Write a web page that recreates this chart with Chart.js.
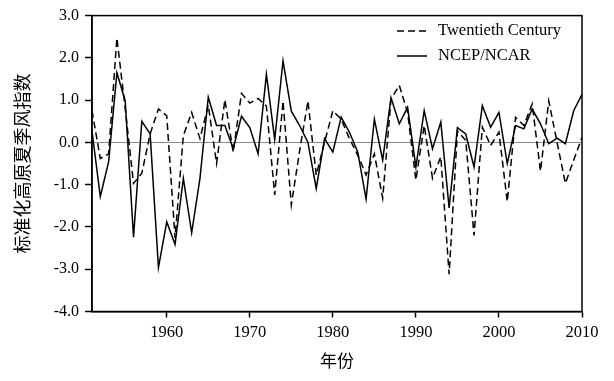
<!DOCTYPE html>
<html>
<head>
<meta charset="utf-8">
<script src="https://cdn.jsdelivr.net/npm/chart.js@4.4.0/dist/chart.umd.min.js"></script>
<style>
html,body{margin:0;padding:0;background:#fff;}
#wrap{width:614px;height:381px;position:relative;}
</style>
</head>
<body>
<div id="wrap"><canvas id="c" width="614" height="381"></canvas></div>
<script>
const years = [1951,1952,1953,1954,1955,1956,1957,1958,1959,1960,
  1961,1962,1963,1964,1965,1966,1967,1968,1969,1970,
  1971,1972,1973,1974,1975,1976,1977,1978,1979,1980,
  1981,1982,1983,1984,1985,1986,1987,1988,1989,1990,
  1991,1992,1993,1994,1995,1996,1997,1998,1999,2000,
  2001,2002,2003,2004,2005,2006,2007,2008,2009,2010];

const twentiethCentury = [0.75,-0.38,-0.27,2.47,0.8,-0.97,-0.73,0.2,0.79,0.63,
  -2.26,0.16,0.71,0.09,0.88,-0.5,1.01,-0.23,1.16,0.93,
  1.04,0.86,-1.24,0.98,-1.48,-0.2,0.98,-0.77,0.0,0.75,
  0.55,0.09,-0.3,-0.77,-0.27,-1.32,1.02,1.35,0.71,-0.89,
  0.4,-0.85,-0.34,-3.12,0.27,0.05,-2.2,0.36,-0.07,0.24,
  -1.4,0.59,0.4,0.91,-0.68,0.98,0.0,-0.97,-0.42,0.12];

const ncepNcar = [0.27,-1.28,-0.46,1.65,0.98,-2.24,0.5,0.2,-2.96,-1.88,
  -2.41,-0.85,-2.14,-0.85,1.07,0.4,0.4,-0.15,0.62,0.35,
  -0.27,1.61,0.07,1.93,0.74,0.4,0.0,-1.09,0.09,-0.23,
  0.6,0.24,-0.23,-1.34,0.55,-0.42,1.06,0.44,0.83,-0.58,
  0.75,-0.15,0.48,-1.55,0.35,0.2,-0.58,0.87,0.36,0.71,
  -0.5,0.4,0.32,0.79,0.44,-0.03,0.1,-0.03,0.75,1.14];

const xTicks = [1960,1970,1980,1990,2000,2010];
const yTicks = [-4,-3,-2,-1,0,1,2,3];
const seriesNames = ['Twentieth Century','NCEP/NCAR'];
const xTitle = '年份';
const yTitle = '标准化高原夏季风指数';

const serif = "'Liberation Serif','Times New Roman',serif";
const cjk = "'Noto Sans CJK SC','Noto Sans CJK JP',sans-serif";

const framePlugin = {
  id:'frame',
  afterDraw(chart){
    const {ctx, chartArea:a} = chart;
    ctx.save();
    ctx.strokeStyle='#000';
    ctx.lineWidth=1.5;
    ctx.setLineDash([]);
    ctx.strokeRect(a.left, a.top, a.right-a.left, a.bottom-a.top);
    // legend
    const lx0 = 397, lx1 = 427, tx = 438;
    const rows = [{y:31, dash:[7,4], label:seriesNames[0]},{y:56, dash:[], label:seriesNames[1]}];
    ctx.font = "16.5px " + serif;
    ctx.fillStyle = '#000';
    ctx.textBaseline = 'middle';
    ctx.textAlign = 'left';
    rows.forEach(r=>{
      ctx.beginPath();
      ctx.setLineDash(r.dash);
      ctx.lineWidth = 1.5;
      ctx.moveTo(lx0, r.y); ctx.lineTo(lx1, r.y);
      ctx.stroke();
      ctx.setLineDash([]);
      ctx.fillText(r.label, tx, r.y);
    });
    ctx.restore();
  }
};

new Chart(document.getElementById('c'), {
  type:'line',
  data:{
    datasets:[
      {label:seriesNames[0], data:years.map((y,i)=>({x:y,y:twentiethCentury[i]})),
       borderColor:'#000', borderWidth:1.5, borderDash:[7,4], pointRadius:0, tension:0, fill:false},
      {label:seriesNames[1], data:years.map((y,i)=>({x:y,y:ncepNcar[i]})),
       borderColor:'#000', borderWidth:1.5, pointRadius:0, tension:0, fill:false}
    ]
  },
  options:{
    responsive:false, animation:false, devicePixelRatio:1,
    layout:{padding:{left:0,right:32,top:12,bottom:0}},
    plugins:{legend:{display:false}, tooltip:{enabled:false}},
    scales:{
      x:{
        type:'linear', min:1951, max:2010,
        afterBuildTicks(s){ s.ticks = xTicks.map(v=>({value:v})); },
        afterFit(s){ s.height = 69.5; },
        grid:{drawOnChartArea:false, drawTicks:true, tickLength:6, tickColor:'#000', tickWidth:1.5},
        border:{display:true, color:'#000', width:1.5},
        ticks:{color:'#000', font:{family:serif, size:16.5}, padding:5, maxRotation:0, autoSkip:false,
               callback:(v)=>String(v)},
        title:{display:true, text:xTitle, color:'#000', font:{family:cjk, size:17}, padding:{top:0,bottom:10}}
      },
      y:{
        type:'linear', min:-4, max:3,
        afterBuildTicks(s){ s.ticks = yTicks.map(v=>({value:v})); },
        afterFit(s){ s.width = 92; },
        grid:{drawOnChartArea:true, drawTicks:true, tickLength:7, tickColor:'#000', tickWidth:1.5,
              color:(c)=> (c.tick && c.tick.value===0) ? '#8a8a8a' : 'rgba(0,0,0,0)', lineWidth:1},
        border:{display:true, color:'#000', width:1.5},
        ticks:{color:'#000', font:{family:serif, size:16}, padding:6, callback:(v)=>v.toFixed(1)},
        title:{display:true, text:yTitle, color:'#000', font:{family:cjk, size:18}, padding:{top:11,bottom:0}}
      }
    }
  },
  plugins:[framePlugin]
});
</script>
</body>
</html>
